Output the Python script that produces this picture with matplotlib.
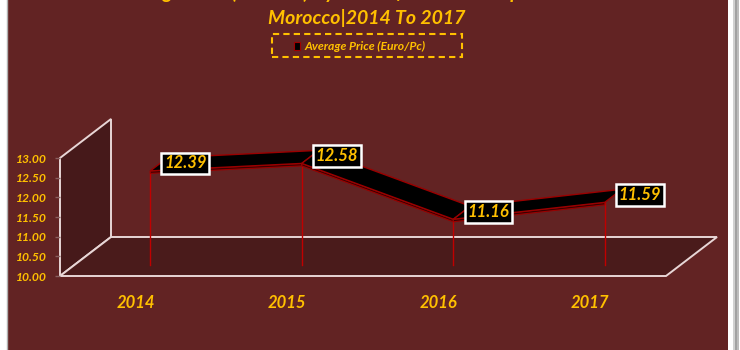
import matplotlib
matplotlib.use('Agg')
import matplotlib.pyplot as plt
from matplotlib.patches import Polygon, Rectangle
from matplotlib.lines import Line2D
from matplotlib.transforms import IdentityTransform
import numpy as np

# ---------------- data ----------------
years = ['2014', '2015', '2016', '2017']
prices = [12.39, 12.58, 11.16, 11.59]
y_ticks = [10.0, 10.5, 11.0, 11.5, 12.0, 12.5, 13.0]
title_line1 = "Average Price (Euro/Pc) By Year Of Footwear Exported From"
title_line2 = "Morocco|2014 To 2017"
series_name = "Average Price (Euro/Pc)"

# ---------------- style ----------------
BG = '#622323'
FLOOR = '#4a1b1b'
GOLD = '#ffc000'
EDGE = '#e8d6d6'
FONT = ['Lato', 'DejaVu Sans']
plt.rcParams['font.family'] = FONT

W, H = 740, 350
fig = plt.figure(figsize=(W / 100, H / 100), dpi=100)
fig.patch.set_facecolor('white')
fig.add_artist(Rectangle((8 / W, 0), 720 / W, 1, transform=fig.transFigure,
                         facecolor=BG, edgecolor='none', zorder=0))
fig.add_artist(Line2D([7 / W, 7 / W], [0, 1], transform=fig.transFigure,
                      color='#b0b0b0', lw=1, zorder=0))
for xp, c in [(734, '#c8c8c8'), (736, '#909090'), (738, '#b0b0b0')]:
    fig.add_artist(Line2D([xp / W, xp / W], [0, 1], transform=fig.transFigure,
                          color=c, lw=1.2, zorder=0))

# front plane of the 3-D box
ax = fig.add_axes([60 / W, (H - 276) / H, 606 / W, 118 / H])
ax.set_xlim(-0.5, len(years) - 0.5)
ax.set_ylim(y_ticks[0], y_ticks[-1])
ax.patch.set_alpha(0)
for s in ax.spines.values():
    s.set_visible(False)

DEPTH = np.array([51.0, 39.0])   # full depth offset in pixels
DF, DB = 0.285, 0.62             # ribbon front / back depth fractions
ymin, ymax = y_ticks[0], y_ticks[-1]
xl, xr = ax.get_xlim()
ID = IdentityTransform()


def P(x, v, d, dy=0.0):
    return ax.transData.transform((x, v)) + d * DEPTH + np.array([0, dy])


# side wall
wall = [P(xl, ymin, 0), P(xl, ymax, 0), P(xl, ymax, 1), P(xl, ymin, 1)]
ax.add_patch(Polygon(wall, closed=True, transform=ID, facecolor='#46191a',
                     edgecolor=EDGE, lw=1.4, clip_on=False, zorder=1))
# floor
floor = [P(xl, ymin, 0), P(xr, ymin, 0), P(xr, ymin, 1), P(xl, ymin, 1)]
ax.add_patch(Polygon(floor, closed=True, transform=ID, facecolor=FLOOR,
                     edgecolor=EDGE, lw=1.4, clip_on=False, zorder=1))

# drop lines
for i, v in enumerate(prices):
    a, b = P(i, v, DF), P(i, ymin, DF)
    ax.add_line(Line2D([a[0], b[0]], [a[1], b[1]], transform=ID,
                       color='#c00000', lw=1, clip_on=False, zorder=2))

# ribbon (with a thin front face)
for i in range(len(prices) - 1):
    face = [P(i, prices[i], DF), P(i + 1, prices[i + 1], DF),
            P(i + 1, prices[i + 1], DF, -2.5), P(i, prices[i], DF, -2.5)]
    ax.add_patch(Polygon(face, closed=True, transform=ID, facecolor='#3a0000',
                         edgecolor='#9a0000', lw=0.8, clip_on=False, zorder=3))
    poly = [P(i, prices[i], DF), P(i + 1, prices[i + 1], DF),
            P(i + 1, prices[i + 1], DB), P(i, prices[i], DB)]
    ax.add_patch(Polygon(poly, closed=True, transform=ID, facecolor='black',
                         edgecolor='#9a0000', lw=1, clip_on=False, zorder=3))

# data labels
for i, v in enumerate(prices):
    ax.annotate(f'{v:.2f}', xy=P(i, v, DF), xycoords=ID,
                xytext=(35, 7.5), textcoords='offset pixels',
                ha='center', va='center', fontsize=12, fontweight='bold',
                style='italic', color=GOLD, zorder=5,
                bbox=dict(boxstyle='square,pad=0.17', fc='black',
                          ec='white', lw=1.8))

# axes ticks
ax.set_yticks(y_ticks)
ax.set_yticklabels([f'{t:.2f}' for t in y_ticks])
ax.tick_params(axis='y', length=3.6, width=1, color='#8a6060', pad=5.8,
               labelsize=8.7, labelcolor=GOLD)
ax.set_xticks(range(len(years)))
ax.set_xticklabels(years)
ax.tick_params(axis='x', length=0, pad=14, labelsize=12, labelcolor=GOLD)
for lab in ax.get_yticklabels() + ax.get_xticklabels():
    lab.set_fontweight('bold')
    lab.set_style('italic')

# titles
fig.text(364 / W, 1 + 1 / H, title_line1, ha='center', va='baseline',
         fontsize=14, fontweight='bold', style='italic', color=GOLD)
fig.text(367 / W, 1 - 18 / H, title_line2, ha='center', va='center',
         fontsize=14, fontweight='bold', style='italic', color=GOLD)

# legend
fig.add_artist(Rectangle((272 / W, 1 - 57 / H), 190 / W, 23 / H,
                         transform=fig.transFigure, facecolor='none',
                         edgecolor=GOLD, lw=1.5, linestyle=(0, (3, 2))))
fig.add_artist(Rectangle((294 / W, 1 - 49.5 / H), 6 / W, 7 / H,
                         transform=fig.transFigure, facecolor='black',
                         edgecolor='#a00000', lw=0.8))
fig.text(304 / W, 1 - 46 / H, series_name, ha='left', va='center',
         fontsize=8.7, fontweight='bold', style='italic', color=GOLD)

fig.savefig('out.png', dpi=100, facecolor=fig.get_facecolor())
